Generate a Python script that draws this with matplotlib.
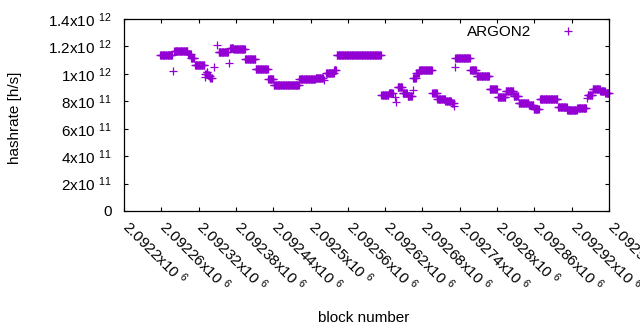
import numpy as np
import matplotlib
matplotlib.use('Agg')
import matplotlib.pyplot as plt
from matplotlib.transforms import ScaledTranslation

plt.rcParams['font.family'] = ['Liberation Sans', 'DejaVu Sans']
plt.rcParams['mathtext.fontset'] = 'custom'
plt.rcParams['mathtext.rm'] = 'Liberation Sans'
plt.rcParams['mathtext.it'] = 'Liberation Sans'
plt.rcParams['mathtext.bf'] = 'Liberation Sans'

# block ranges (offset from first block) with a constant hashrate, in 1e12 h/s
first_block = 2092200
seg_first = [58, 79, 81, 103, 108, 114, 130, 131, 133, 135, 137, 139, 145, 150,
             152, 169, 171, 176, 195, 212, 232, 241, 282, 308, 322, 325, 338, 342,
             414, 426, 436, 438, 440, 448, 456, 464, 465, 470, 475, 496, 504, 517,
             527, 531, 532, 533, 557, 567, 588, 601, 614, 627, 635, 651, 659, 669,
             698, 713, 729, 745, 746, 754, 766, 774]
seg_last = [77, 79, 102, 107, 113, 129, 130, 132, 134, 136, 138, 141, 145, 150,
            167, 169, 175, 194, 211, 231, 240, 281, 307, 320, 322, 337, 341, 413,
            425, 432, 436, 438, 447, 455, 463, 464, 469, 474, 495, 503, 516, 526,
            530, 531, 532, 556, 566, 587, 600, 613, 626, 634, 650, 658, 667, 697,
            712, 728, 743, 745, 753, 765, 773, 780]
seg_rate = [1.134, 1.021, 1.170, 1.143, 1.115, 1.068, 0.980, 1.000, 1.013, 0.995,
            0.985, 0.973, 1.048, 1.210, 1.161, 1.077, 1.190, 1.180, 1.106, 1.039,
            0.962, 0.917, 0.959, 0.967, 0.955, 1.004, 1.029, 1.134, 0.846, 0.858,
            0.829, 0.797, 0.904, 0.858, 0.836, 0.882, 0.967, 1.004, 1.026, 0.864,
            0.819, 0.804, 0.787, 0.765, 1.052, 1.113, 1.028, 0.982, 0.886, 0.829,
            0.875, 0.842, 0.787, 0.773, 0.744, 0.814, 0.758, 0.734, 0.751, 0.824,
            0.846, 0.886, 0.875, 0.858]

x_ticks = [first_block + 60 * k for k in range(14)]
y_ticks = [0, 2e11, 4e11, 6e11, 8e11, 1e12, 1.2e12, 1.4e12]
y_labels = ['0', '2x10 $^{11}$', '4x10 $^{11}$', '6x10 $^{11}$', '8x10 $^{11}$',
            '1x10 $^{12}$', '1.2x10 $^{12}$', '1.4x10 $^{12}$']

blocks = np.concatenate([np.arange(a, b + 1) for a, b in zip(seg_first, seg_last)]) + first_block
rates = np.repeat(np.array(seg_rate) * 1e12, np.array(seg_last) - np.array(seg_first) + 1)

fig = plt.figure(figsize=(6.4, 3.3), dpi=100)
ax = fig.add_axes([124 / 640, 1 - 211 / 330, 485 / 640, 192 / 330])

ax.plot(blocks, rates, linestyle='none', marker='+', markersize=5.2,
        markeredgewidth=0.9, color='#9400d3', label='ARGON2', clip_on=False)

ax.set_xlim(x_ticks[0], first_block + 780)
ax.set_ylim(0, 1.4e12)
ax.set_yticks(y_ticks)
ax.set_yticklabels(y_labels)
ax.set_xticks(x_ticks)
ax.set_xticklabels(['%gx10 $^{6}$' % (t / 1e6) for t in x_ticks],
                   rotation=-45, rotation_mode='anchor', ha='left', va='baseline')

ax.tick_params(direction='in', top=True, right=True, length=3, width=0.8,
               labelsize=11, colors='black')
ax.tick_params(axis='y', pad=9)
ax.tick_params(axis='x', pad=0)
for lab in ax.get_xticklabels():
    lab.set_transform(lab.get_transform() + ScaledTranslation(-0.03, -0.17, fig.dpi_scale_trans))
for s in ax.spines.values():
    s.set_linewidth(0.9)

fig.text(15.5 / 640, 1 - 118 / 330, 'hashrate [h/s]', rotation=90,
         ha='center', va='center', fontsize=11)
fig.text(364 / 640, 1 - 318 / 330, 'block number', ha='center', va='center', fontsize=11)

ax.legend(loc='upper right', bbox_to_anchor=(0.962, 1.006), frameon=False,
          markerfirst=False, borderpad=0, handlelength=2, handletextpad=1.4,
          fontsize=11)

fig.savefig('out.png', dpi=100)
